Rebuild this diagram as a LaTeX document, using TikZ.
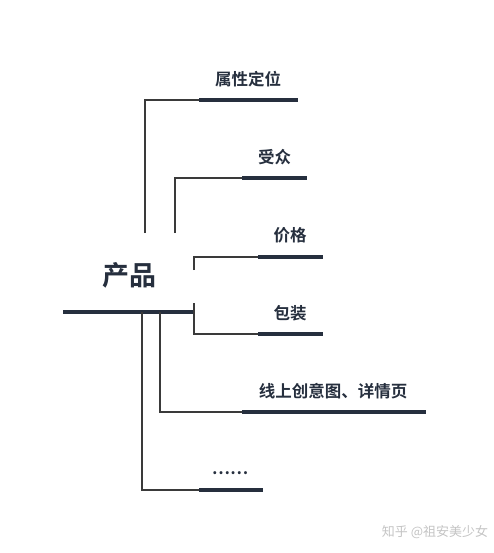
\documentclass[tikz,border=0pt]{standalone}
\usepackage{fontspec}
\newfontfamily\cjk{Noto Sans CJK SC}[BoldFont={Noto Sans CJK SC Bold}]
\definecolor{navy}{HTML}{262F3E}
\definecolor{thin}{HTML}{3A3A3A}
\definecolor{wm}{HTML}{C4C4C4}
\tikzset{
  bar/.style={line width=4.8pt,color=navy},
  link/.style={line width=1.1pt,color=thin},
  lbl/.style={inner sep=0pt,text=navy,font=\cjk\bfseries\fontsize{16.5}{18}\selectfont},
  big/.style={inner sep=0pt,text=navy,font=\cjk\bfseries\fontsize{27}{30}\selectfont},
}
\begin{document}
\begin{tikzpicture}[x=1pt,y=-1pt]
\useasboundingbox (0,0) rectangle (493,553);
% main
\coordinate (m1) at (63,312);
\coordinate (m2) at (194,312);
\draw[bar] (m1) -- (m2);
\node[big] (prod) at (129,275) {产品};
% branch A
\coordinate (a0) at (145,233);
\coordinate (a1) at (145,100);
\coordinate (a2) at (199,100);
\coordinate (a3) at (298,100);
\draw[link] (a0) -- (a1) -- (a2);
\draw[bar] (a2) -- (a3);
\node[lbl] (ta) at (248,79) {属性定位};
% branch B
\coordinate (b0) at (175,233);
\coordinate (b1) at (175,178);
\coordinate (b2) at (242,178);
\coordinate (b3) at (307,178);
\draw[link] (b0) -- (b1) -- (b2);
\draw[bar] (b2) -- (b3);
\node[lbl] (tb) at (274.5,157) {受众};
% branch C
\coordinate (c0) at (194,270);
\coordinate (c1) at (194,257);
\coordinate (c2) at (258,257);
\coordinate (c3) at (323,257);
\draw[link] (c0) -- (c1) -- (c2);
\draw[bar] (c2) -- (c3);
\node[lbl] (tc) at (290,235) {价格};
% branch D
\coordinate (d0) at (194,303);
\coordinate (d1) at (194,334);
\coordinate (d2) at (258,334);
\coordinate (d3) at (323,334);
\draw[link] (d0) -- (d1) -- (d2);
\draw[bar] (d2) -- (d3);
\node[lbl] (td) at (290,313) {包装};
% branch E
\coordinate (e0) at (160,312);
\coordinate (e1) at (160,412);
\coordinate (e2) at (242,412);
\coordinate (e3) at (426,412);
\draw[link] (e0) -- (e1) -- (e2);
\draw[bar] (e2) -- (e3);
\node[lbl] (te) at (333,391) {线上创意图、详情页};
% branch F
\coordinate (f0) at (142,312);
\coordinate (f1) at (142,490);
\coordinate (f2) at (199,490);
\coordinate (f3) at (263,490);
\draw[link] (f0) -- (f1) -- (f2);
\draw[bar] (f2) -- (f3);
\node[lbl] (tf) at (230,473) {……};
% watermark
\node[inner sep=0pt,text=wm,font=\cjk\fontsize{13}{15}\selectfont] (wmk) at (435,532) {知乎 @祖安美少女};
\end{tikzpicture}
\end{document}
